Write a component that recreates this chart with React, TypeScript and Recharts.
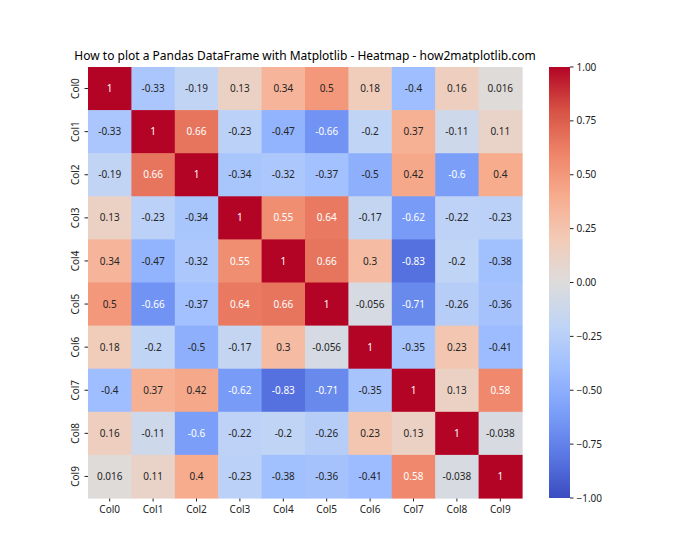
import { ScatterChart, Scatter, BarChart, Bar, XAxis, YAxis } from 'recharts';

const labels = ['Col0', 'Col1', 'Col2', 'Col3', 'Col4', 'Col5', 'Col6', 'Col7', 'Col8', 'Col9'];

const row0 = [1, -0.33, -0.19, 0.13, 0.34, 0.5, 0.18, -0.4, 0.16, 0.016];
const row1 = [-0.33, 1, 0.66, -0.23, -0.47, -0.66, -0.2, 0.37, -0.11, 0.11];
const row2 = [-0.19, 0.66, 1, -0.34, -0.32, -0.37, -0.5, 0.42, -0.6, 0.4];
const row3 = [0.13, -0.23, -0.34, 1, 0.55, 0.64, -0.17, -0.62, -0.22, -0.23];
const row4 = [0.34, -0.47, -0.32, 0.55, 1, 0.66, 0.3, -0.83, -0.2, -0.38];
const row5 = [0.5, -0.66, -0.37, 0.64, 0.66, 1, -0.056, -0.71, -0.26, -0.36];
const row6 = [0.18, -0.2, -0.5, -0.17, 0.3, -0.056, 1, -0.35, 0.23, -0.41];
const row7 = [-0.4, 0.37, 0.42, -0.62, -0.83, -0.71, -0.35, 1, 0.13, 0.58];
const row8 = [0.16, -0.11, -0.6, -0.22, -0.2, -0.26, 0.23, 0.13, 1, -0.038];
const row9 = [0.016, 0.11, 0.4, -0.23, -0.38, -0.36, -0.41, 0.58, -0.038, 1];

const cbTicks = [-1, -0.75, -0.5, -0.25, 0, 0.25, 0.5, 0.75, 1];

const rows = [row0, row1, row2, row3, row4, row5, row6, row7, row8, row9];
const idx = labels.map((_, i) => i);

// coolwarm, sampled at 11 points
const coolwarm = ['#3b4cc0', '#5a78e4', '#7b9ff9', '#9ebeff', '#c0d4f5', '#dddcdc', '#f2cbb7', '#f7ac8e', '#ee8468', '#d65244', '#b40426'];

const hex2rgb = (h: string) => [1, 3, 5].map(i => parseInt(h.slice(i, i + 2), 16));

function colorFor(v: number) {
  const t = Math.max(0, Math.min(1, (v + 1) / 2)) * (coolwarm.length - 1);
  const i = Math.min(Math.floor(t), coolwarm.length - 2);
  const f = t - i;
  const a = hex2rgb(coolwarm[i]);
  const b = hex2rgb(coolwarm[i + 1]);
  return a.map((x, k) => Math.round(x + (b[k] - x) * f));
}

function textColor(rgb: number[]) {
  const lin = rgb.map(c => {
    const s = c / 255;
    return s <= 0.03928 ? s / 12.92 : Math.pow((s + 0.055) / 1.055, 2.4);
  });
  const lum = 0.2126 * lin[0] + 0.7152 * lin[1] + 0.0722 * lin[2];
  return lum > 0.408 ? '#262626' : '#ffffff';
}

const cells = rows.flatMap((r, y) => r.map((v, x) => ({ x, y, v })));
const cbData = [{ name: 'cbar', range: [cbTicks[0], cbTicks[cbTicks.length - 1]] }];

const PLOT_W = 434;
const PLOT_H = 431;
const CW = PLOT_W / labels.length;
const CH = PLOT_H / labels.length;

const HeatCell = (props: any) => {
  const { cx, cy, payload } = props;
  const rgb = colorFor(payload.v);
  return (
    <g>
      <rect x={cx - CW / 2} y={cy - CH / 2} width={CW + 0.6} height={CH + 0.6} fill={`rgb(${rgb.join(',')})`} />
      <text x={cx} y={cy} dy="0.36em" textAnchor="middle" fontSize={10} fill={textColor(rgb)}>
        {String(Number(payload.v.toPrecision(2)))}
      </text>
    </g>
  );
};

const XTick = ({ x, y, payload }: any) => (
  <text x={x} y={y} dy="0.71em" textAnchor="middle" fontSize={10} fill="#222">
    {labels[payload.value]}
  </text>
);

const YTick = ({ x, y, payload }: any) => (
  <text transform={`translate(${x},${y}) rotate(-90)`} textAnchor="middle" fontSize={10} fill="#222">
    {labels[payload.value]}
  </text>
);

const CbTick = ({ x, y, payload }: any) => (
  <text x={x} y={y} dy="0.36em" textAnchor="start" fontSize={10} fill="#222">
    {payload.value < 0 ? '\u2212' + Math.abs(payload.value).toFixed(2) : payload.value.toFixed(2)}
  </text>
);

export default function App() {
  return (
    <div style={{ position: 'absolute', left: 0, top: 0, width: 700, height: 560, background: '#fff', fontFamily: '"Noto Sans", sans-serif' }}>
      <div style={{ position: 'absolute', left: 0, width: 610, top: 48, textAlign: 'center', fontSize: 12, lineHeight: '16px', color: '#000' }}>
        How to plot a Pandas DataFrame with Matplotlib - Heatmap - how2matplotlib.com
      </div>
      <div style={{ position: 'absolute', left: 0, top: 0 }}>
        <ScatterChart width={700} height={560} margin={{ top: 67, right: 700 - 88 - PLOT_W, bottom: 560 - 67 - PLOT_H - 30, left: 58 }}>
          <XAxis type="number" dataKey="x" domain={[-0.5, 9.5]} ticks={idx} interval={0} height={30}
            axisLine={false} tickSize={3.5} tickMargin={4} tickLine={{ stroke: '#222' }} tick={<XTick />} />
          <YAxis type="number" dataKey="y" domain={[-0.5, 9.5]} reversed ticks={idx} interval={0} width={30}
            axisLine={false} tickSize={3.5} tickMargin={6} tickLine={{ stroke: '#222' }} tick={<YTick />} />
          <Scatter data={cells} shape={<HeatCell />} isAnimationActive={false} />
        </ScatterChart>
      </div>
      <div style={{ position: 'absolute', left: 0, top: 0, pointerEvents: 'none' }}>
        <BarChart width={700} height={560} data={cbData} barCategoryGap={0}
          margin={{ top: 67, right: 700 - 570 - 50, bottom: 560 - 67 - PLOT_H, left: 549 }}>
          <defs>
            <linearGradient id="cbGrad" x1="0" y1="1" x2="0" y2="0">
              {coolwarm.map((c, i) => (
                <stop key={i} offset={i / (coolwarm.length - 1)} stopColor={c} />
              ))}
            </linearGradient>
          </defs>
          <XAxis dataKey="name" hide />
          <YAxis type="number" orientation="right" domain={[-1, 1]} ticks={cbTicks} interval={0} width={50}
            axisLine={false} tickSize={3.5} tickMargin={3} tickLine={{ stroke: '#222' }} tick={<CbTick />} />
          <Bar dataKey="range" fill="url(#cbGrad)" isAnimationActive={false} />
        </BarChart>
      </div>
    </div>
  );
}
